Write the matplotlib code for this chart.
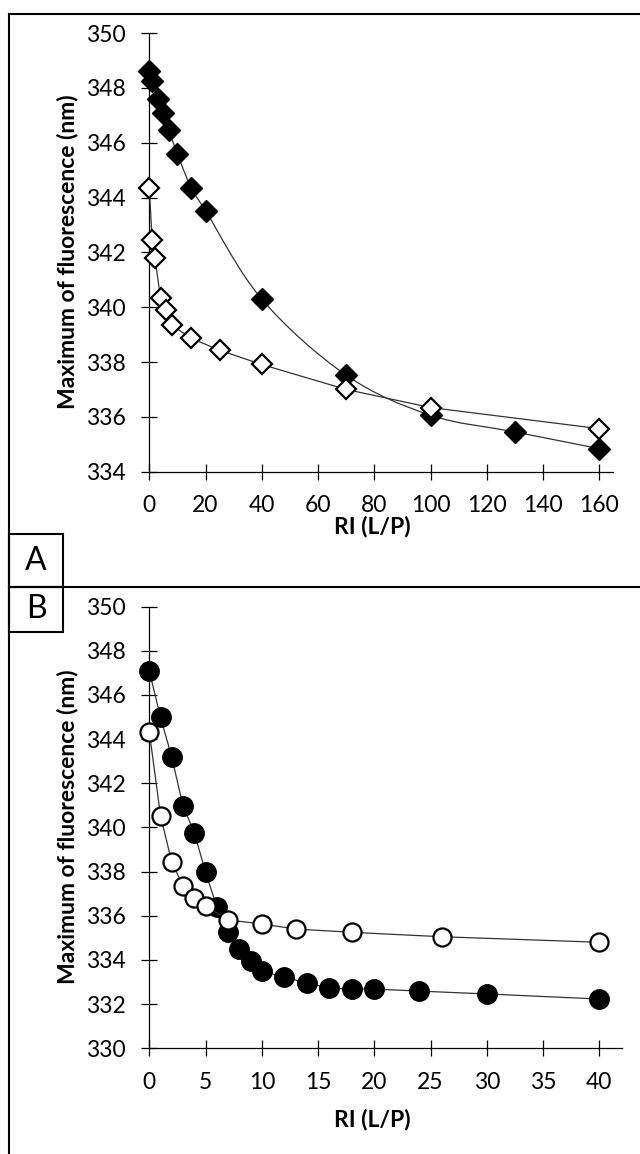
import numpy as np
import matplotlib
matplotlib.use('Agg')
import matplotlib.pyplot as plt
from matplotlib.path import Path
from matplotlib.patches import PathPatch, Rectangle
from matplotlib.lines import Line2D

plt.rcParams['font.family'] = ['Lato', 'DejaVu Sans']

# panel A (diamonds)
a_fill_x = [0, 1, 3, 5, 7, 10, 15, 20, 40, 70, 100, 130, 160]
a_fill_y = [348.6, 348.25, 347.58, 347.07, 346.46, 345.58, 344.33, 343.52,
            340.29, 337.52, 336.06, 335.45, 334.84]
a_open_x = [0, 1, 2, 4, 6, 8, 15, 25, 40, 70, 100, 160]
a_open_y = [344.35, 342.46, 341.78, 340.34, 339.89, 339.34, 338.86, 338.43,
            337.91, 337.0, 336.34, 335.57]

# panel B (circles)
b_fill_x = [0, 1, 2, 3, 4, 5, 6, 7, 8, 9, 10, 12, 14, 16, 18, 20, 24, 30, 40]
b_fill_y = [347.08, 344.98, 343.17, 340.97, 339.76, 337.97, 336.41, 335.28,
            334.48, 333.95, 333.5, 333.21, 332.97, 332.72, 332.68, 332.68,
            332.59, 332.46, 332.23]
b_open_x = [0, 1, 2, 3, 4, 5, 7, 10, 13, 18, 26, 40]
b_open_y = [344.33, 340.52, 338.42, 337.36, 336.79, 336.44, 335.81, 335.63,
            335.40, 335.25, 335.05, 334.80]

a_xticks = list(range(0, 161, 20))
a_yticks = list(range(334, 351, 2))
b_xticks = list(range(0, 41, 5))
b_yticks = list(range(330, 351, 2))

W, H = 640, 1154
LINE = '#333333'
FS = 16.5


def fx(px):
    return px / W


def fy(py):
    return 1 - py / H


def smooth_path(xs, ys):
    # excel-like smoothed line (catmull-rom as cubic bezier)
    pts = np.column_stack([xs, ys]).astype(float)
    n = len(pts)
    verts = [pts[0]]
    codes = [Path.MOVETO]
    for i in range(n - 1):
        p0 = pts[i - 1] if i > 0 else pts[i]
        p3 = pts[i + 2] if i + 2 < n else pts[i + 1]
        c1 = pts[i] + (pts[i + 1] - p0) / 6
        c2 = pts[i + 1] - (p3 - pts[i]) / 6
        verts += [c1, c2, pts[i + 1]]
        codes += [Path.CURVE4] * 3
    return Path(verts, codes)


def setup(ax, xmax, xticks, yticks):
    ax.set_xlim(0, xmax)
    ax.set_ylim(yticks[0], yticks[-1])
    ax.set_xticks(xticks)
    ax.set_yticks(yticks)
    ax.spines['top'].set_visible(False)
    ax.spines['right'].set_visible(False)
    for s in ['left', 'bottom']:
        ax.spines[s].set_linewidth(0.9)
    ax.tick_params(direction='inout', length=12, width=0.9, labelsize=FS)
    ax.tick_params(axis='y', pad=11)
    ax.tick_params(axis='x', pad=11)


fig = plt.figure(figsize=(W / 100, H / 100), dpi=100)

# axes placed in pixel units
axA = fig.add_axes([fx(149.3), fy(471.7), fx(612.7) - fx(149.3), fy(33) - fy(471.7)])
axB = fig.add_axes([fx(149.3), fy(1048.3), fx(621.7) - fx(149.3), fy(606.5) - fy(1048.3)])
for ax in (axA, axB):
    ax.patch.set_alpha(0)

setup(axA, 160 * (612.7 - 149.3) / 450, a_xticks, a_yticks)
setup(axB, 40 * (621.7 - 149.3) / 450, b_xticks, b_yticks)

# panel A
axA.add_patch(PathPatch(smooth_path(a_fill_x, a_fill_y), fill=False,
                        edgecolor=LINE, lw=0.9, zorder=2))
axA.plot(a_fill_x, a_fill_y, ls='none', marker='D', ms=11, mfc='black',
         mec='black', mew=1, zorder=3, clip_on=False)
axA.plot(a_open_x, a_open_y, color=LINE, lw=0.9, marker='D', ms=10.5,
         mfc='white', mec='black', mew=1.6, zorder=4, clip_on=False)

# panel B
axB.plot(b_fill_x, b_fill_y, color=LINE, lw=0.9, marker='o', ms=14,
         mfc='black', mec='black', mew=1, zorder=3, clip_on=False)
axB.plot(b_open_x, b_open_y, color=LINE, lw=0.9, marker='o', ms=13,
         mfc='white', mec='black', mew=1.6, zorder=4, clip_on=False)

# axis titles
ylab = 'Maximum of fluorescence (nm)'
fig.text(fx(68), fy(252), ylab, rotation=90, ha='center', va='center',
         fontsize=FS, fontweight='bold')
fig.text(fx(68), fy(827), ylab, rotation=90, ha='center', va='center',
         fontsize=FS, fontweight='bold')
fig.text(fx(372), fy(527), 'RI (L/P)', ha='center', va='center',
         fontsize=FS, fontweight='bold')
fig.text(fx(372), fy(1119), 'RI (L/P)', ha='center', va='center',
         fontsize=FS, fontweight='bold')

# frame and panel boxes
frame_lw = 1.5
fig.add_artist(Line2D([fx(9), fx(9)], [fy(14), fy(1154)], transform=fig.transFigure,
                      color='black', lw=frame_lw))
fig.add_artist(Line2D([fx(9), fx(640)], [fy(14), fy(14)], transform=fig.transFigure,
                      color='black', lw=frame_lw))
fig.add_artist(Line2D([fx(9), fx(640)], [fy(587), fy(587)], transform=fig.transFigure,
                      color='black', lw=frame_lw))
for top, bot, letter in [(534, 587, 'A'), (587, 632, 'B')]:
    fig.add_artist(Rectangle((fx(9), fy(bot)), fx(63) - fx(9), fy(top) - fy(bot),
                             transform=fig.transFigure, fill=False,
                             edgecolor='black', lw=frame_lw))
    fig.text(fx(36), fy((top + bot) / 2), letter, ha='center', va='center',
             fontsize=23)

fig.savefig('out.png', dpi=100)
